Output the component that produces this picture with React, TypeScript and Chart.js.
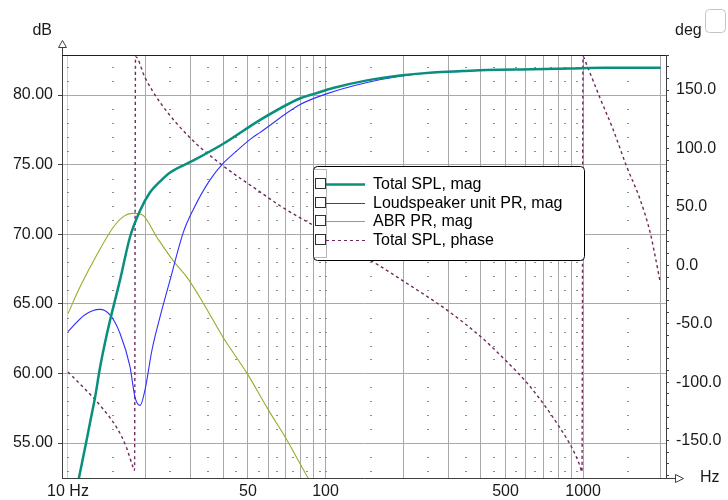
import React, { useEffect, useRef } from 'react';
import { Chart, registerables } from 'chart.js';

Chart.register(...registerables);

// ---- data ----
const totalFreq = [10, 11.03, 11.75, 12.28, 12.73, 13.31, 13.92, 14.56, 15.92, 17.41, 19.05, 20.8, 22.8, 25, 30.7, 40.1, 55.6, 79.4, 91, 107, 145, 195, 261, 340, 423, 640, 890, 1200, 2000];
const totalMag = [48.5, 52.5, 55.0, 56.8, 58.25, 60.4, 62.2, 63.8, 66.7, 69.8, 71.7, 73.0, 73.8, 74.45, 75.3, 76.5, 78.2, 79.75, 80.1, 80.5, 81.05, 81.4, 81.62, 81.72, 81.8, 81.85, 81.9, 81.95, 81.95];

const unitFreq = [10, 11.6, 13.3, 14.56, 15.9, 17.4, 18.2, 19.05, 19.9, 21.2, 22.8, 24.9, 28.0, 30.7, 35.6, 40.1, 45.3, 51.7, 55.6, 79.4, 101.5, 145, 195, 261, 340, 423, 640, 890, 1200, 2000];
const unitMag = [63.0, 64.2, 64.6, 64.2, 62.9, 60.5, 58.3, 57.7, 58.8, 61.7, 64.1, 66.7, 70.1, 71.8, 73.9, 75.1, 76.0, 76.9, 77.3, 79.3, 80.1, 80.9, 81.35, 81.6, 81.7, 81.8, 81.85, 81.9, 81.95, 81.95];

const abrFreq = [10, 11.13, 12.93, 14.99, 16.5, 17.7, 19.4, 22.1, 25.6, 29.0, 33.4, 40, 49.6, 59.9, 70.9, 84.9, 95];
const abrMag = [64.3, 66.2, 68.5, 70.5, 71.3, 71.5, 71.4, 69.8, 68.1, 66.9, 65.1, 62.6, 60.0, 57.4, 55.2, 52.6, 51.2];

const phaseFreq = [10, 11.54, 13.31, 15.5, 16.79, 17.89, 18.13, 18.29, 19.91, 22.77, 29.77, 40.0, 55.67, 66.57, 84.77, 99.5, 124.5, 159.9, 200, 299.2, 405.3, 506.9, 606, 693, 799.8, 914.6, 973.4, 991, 1000, 1033, 1164, 1310, 1477, 1668, 1825, 1908, 1997];
const phaseDeg = [-91.3, -105, -119.7, -139.3, -154.7, -172.7, -175.5, 178.6, 160.6, 139.5, 109.2, 85.2, 62.9, 51.0, 37.3, 28.7, 14.1, 0.4, -13.3, -39.0, -62.1, -82.6, -100.6, -116.9, -136.6, -158.0, -171.7, -176.8, 178.6, 171.7, 143.2, 116.0, 84.6, 56.1, 27.6, 7.3, -15.0];

const seriesLabels = ['Total SPL, mag', 'Loudspeaker unit PR, mag', 'ABR PR, mag', 'Total SPL, phase'];
const xGridTicks = [10, 20, 30, 40, 50, 60, 70, 80, 90, 100, 200, 300, 400, 500, 600, 700, 800, 900, 1000, 2000];
const xTickLabels: Record<number, string> = { 10: '10 Hz', 50: '50', 100: '100', 500: '500', 1000: '1000' };
const minorFreqs = [10, 15, 25, 35, 45, 55, 65, 75, 85, 95, 100, 150, 250, 350, 450, 550, 650, 750, 850, 950, 1500];

const FONT = { family: '"Liberation Sans", Arial, sans-serif', size: 16 };
const TEXT = '#1a1a1a';
const AXIS = '#404040';
const GRID = '#a8a8a8';

const zip = (xs: number[], ys: number[]) => xs.map((x, i) => ({ x, y: ys[i] }));

function roundRect(ctx: CanvasRenderingContext2D, x: number, y: number, w: number, h: number, r: number) {
  ctx.beginPath();
  ctx.moveTo(x + r, y);
  ctx.lineTo(x + w - r, y);
  ctx.quadraticCurveTo(x + w, y, x + w, y + r);
  ctx.lineTo(x + w, y + h - r);
  ctx.quadraticCurveTo(x + w, y + h, x + w - r, y + h);
  ctx.lineTo(x + r, y + h);
  ctx.quadraticCurveTo(x, y + h, x, y + h - r);
  ctx.lineTo(x, y + r);
  ctx.quadraticCurveTo(x, y, x + r, y);
  ctx.closePath();
}

const decorPlugin = {
  id: 'decor',
  beforeDatasetsDraw(chart: any) {
    const ctx = chart.ctx as CanvasRenderingContext2D;
    const xs = chart.scales.x;
    const ys = chart.scales.y;
    ctx.save();
    ctx.fillStyle = '#8c8c8c';
    for (const f of minorFreqs) {
      const px = Math.round(xs.getPixelForValue(f));
      for (let d = 53; d <= 82; d++) {
        if (d % 5 === 0) continue;
        const py = Math.round(ys.getPixelForValue(d));
        ctx.fillRect(px - 1, py, 2, 1);
      }
    }
    ctx.restore();
  },
  afterDraw(chart: any) {
    const ctx = chart.ctx as CanvasRenderingContext2D;
    const a = chart.chartArea;
    ctx.save();
    // top border
    ctx.strokeStyle = '#202020';
    ctx.lineWidth = 1;
    ctx.beginPath();
    ctx.moveTo(a.left, a.top + 0.5);
    ctx.lineTo(a.right, a.top + 0.5);
    ctx.stroke();
    // axis extensions + arrows
    ctx.strokeStyle = AXIS;
    ctx.beginPath();
    ctx.moveTo(a.left + 0.5, a.top);
    ctx.lineTo(a.left + 0.5, 47);
    ctx.moveTo(a.right, a.bottom + 0.5);
    ctx.lineTo(675, a.bottom + 0.5);
    ctx.stroke();
    ctx.fillStyle = '#fff';
    ctx.beginPath();
    ctx.moveTo(a.left + 0.5, 40.5);
    ctx.lineTo(a.left + 4.5, 47.5);
    ctx.lineTo(a.left - 3.5, 47.5);
    ctx.closePath();
    ctx.fill();
    ctx.stroke();
    ctx.beginPath();
    ctx.moveTo(683.5, a.bottom + 0.5);
    ctx.lineTo(675.5, a.bottom - 3.5);
    ctx.lineTo(675.5, a.bottom + 4.5);
    ctx.closePath();
    ctx.fill();
    ctx.stroke();
    // axis titles
    ctx.font = `${FONT.size}px ${FONT.family}`;
    ctx.fillStyle = TEXT;
    ctx.textBaseline = 'alphabetic';
    ctx.textAlign = 'right';
    ctx.fillText('dB', 52, 35);
    ctx.textAlign = 'left';
    ctx.fillText('deg', 675, 35);
    ctx.fillText('Hz', 700, 482);
    // top-right small box
    ctx.strokeStyle = '#c4c4c4';
    roundRect(ctx, 705.5, 9.5, 20, 23, 4);
    ctx.stroke();
    // legend
    const lx = 313.5, ly = 166.5, lw = 271, lh = 94;
    ctx.fillStyle = '#ffffff';
    ctx.strokeStyle = '#000000';
    roundRect(ctx, lx, ly, lw, lh, 4);
    ctx.fill();
    ctx.stroke();
    ctx.setLineDash([1, 1]);
    ctx.strokeStyle = '#707070';
    ctx.strokeRect(313.5, 169.5, 13, 88);
    ctx.setLineDash([]);
    const rowY = [184, 202.7, 221.3, 240];
    chart.data.datasets.forEach((ds: any, i: number) => {
      const y = Math.round(rowY[i]);
      ctx.strokeStyle = '#303030';
      ctx.lineWidth = 1;
      ctx.setLineDash([]);
      ctx.strokeRect(315.5, y - 5.5, 10, 10);
      ctx.strokeStyle = ds.borderColor;
      ctx.lineWidth = ds.borderWidth > 2 ? ds.borderWidth : 1;
      ctx.setLineDash(ds.borderDash || []);
      ctx.beginPath();
      ctx.moveTo(326, y + 0.5);
      ctx.lineTo(365, y + 0.5);
      ctx.stroke();
      ctx.setLineDash([]);
      ctx.fillStyle = '#000';
      ctx.textAlign = 'left';
      ctx.textBaseline = 'middle';
      ctx.fillText(ds.label, 373, y + 1);
    });
    ctx.restore();
  },
};

export default function App() {
  const ref = useRef<HTMLCanvasElement | null>(null);
  useEffect(() => {
    if (!ref.current) return;
    const chart = new Chart(ref.current, {
      type: 'line',
      data: {
        datasets: [
          { label: seriesLabels[0], data: zip(totalFreq, totalMag), borderColor: '#0a8f7c', borderWidth: 2.5, yAxisID: 'y' },
          { label: seriesLabels[1], data: zip(unitFreq, unitMag), borderColor: '#2f2fff', borderWidth: 1.1, yAxisID: 'y' },
          { label: seriesLabels[2], data: zip(abrFreq, abrMag), borderColor: '#9aab2a', borderWidth: 1.1, yAxisID: 'y' },
          { label: seriesLabels[3], data: zip(phaseFreq, phaseDeg), borderColor: '#6e2a5e', borderWidth: 1.4, borderDash: [3, 3], yAxisID: 'y1' },
        ],
      },
      options: {
        responsive: false,
        animation: false,
        devicePixelRatio: 1,
        layout: { padding: { top: 55, left: 0, right: 0, bottom: 0 } },
        plugins: { legend: { display: false }, tooltip: { enabled: false } },
        elements: { point: { radius: 0 }, line: { cubicInterpolationMode: 'monotone' } },
        scales: {
          x: {
            type: 'logarithmic',
            min: 9.478,
            max: 2100,
            afterBuildTicks: (s: any) => { s.ticks = xGridTicks.map((v) => ({ value: v })); },
            afterFit: (s: any) => { s.height = 22; },
            grid: {
              color: (c: any) => (c.tick && c.tick.value === 10 ? '#d2d2d2' : GRID),
              drawTicks: false,
            },
            border: { display: true, color: AXIS, width: 1 },
            ticks: {
              autoSkip: false,
              maxRotation: 0,
              padding: 4,
              font: FONT,
              color: TEXT,
              callback: (v: any) => xTickLabels[Number(v)] ?? '',
            },
          },
          y: {
            position: 'left',
            min: 52.486,
            max: 82.874,
            afterFit: (s: any) => { s.width = 62; },
            grid: { color: GRID, tickColor: AXIS, tickLength: 4 },
            border: { display: true, color: AXIS, width: 1 },
            ticks: {
              stepSize: 5,
              includeBounds: false,
              autoSkip: false,
              padding: 5,
              font: FONT,
              color: TEXT,
              callback: (v: any) => Number(v).toFixed(2),
            },
          },
          y1: {
            position: 'right',
            min: -182,
            max: 180,
            afterFit: (s: any) => { s.width = 62; },
            grid: { drawOnChartArea: false, color: AXIS, tickLength: 3 },
            border: { display: true, color: AXIS, width: 1 },
            ticks: {
              stepSize: 10,
              includeBounds: false,
              autoSkip: false,
              padding: 7,
              font: FONT,
              color: TEXT,
              callback: (v: any) => (Number(v) % 50 === 0 ? Number(v).toFixed(1) : ''),
            },
          },
        },
      },
      plugins: [decorPlugin],
    } as any);
    return () => chart.destroy();
  }, []);
  return (
    <div style={{ position: 'fixed', left: 0, top: 0, width: 728, height: 500, background: '#fff' }}>
      <canvas ref={ref} width={728} height={500} style={{ display: 'block', width: 728, height: 500 }} />
    </div>
  );
}
